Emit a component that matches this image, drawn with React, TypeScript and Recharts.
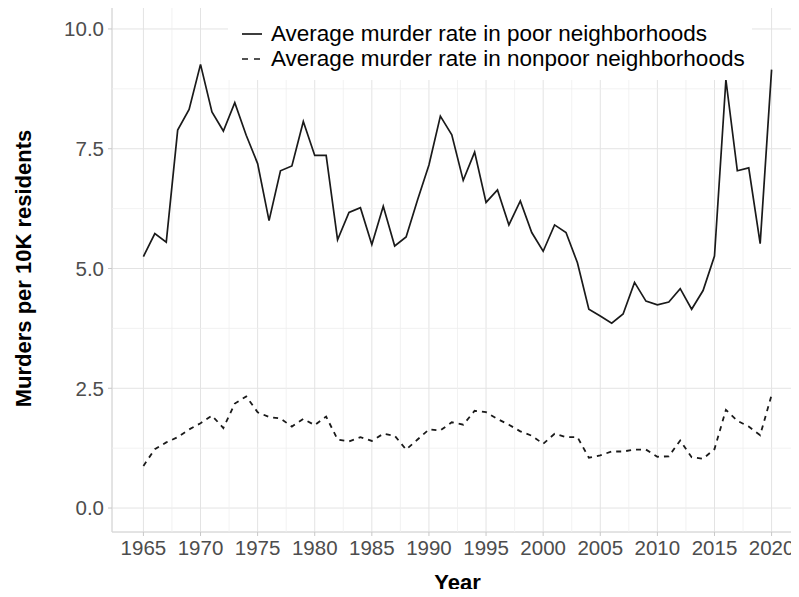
import React from 'react';
import { LineChart, Line, XAxis, YAxis, CartesianGrid, ReferenceLine, ReferenceArea, Legend } from 'recharts';

const years = [1965,1966,1967,1968,1969,1970,1971,1972,1973,1974,1975,1976,1977,1978,1979,1980,1981,1982,1983,1984,1985,1986,1987,1988,1989,1990,1991,1992,1993,1994,1995,1996,1997,1998,1999,2000,2001,2002,2003,2004,2005,2006,2007,2008,2009,2010,2011,2012,2013,2014,2015,2016,2017,2018,2019,2020];

const poor = [5.25,5.73,5.55,7.89,8.32,9.26,8.27,7.87,8.46,7.78,7.19,6.0,7.04,7.14,8.07,7.36,7.36,5.6,6.17,6.27,5.5,6.3,5.47,5.66,6.43,7.16,8.18,7.79,6.84,7.43,6.38,6.64,5.91,6.41,5.75,5.36,5.91,5.75,5.12,4.15,4.01,3.86,4.05,4.71,4.32,4.24,4.3,4.58,4.15,4.54,5.26,8.94,7.04,7.1,5.52,9.15];

const nonpoor = [0.88,1.23,1.37,1.48,1.64,1.77,1.93,1.67,2.18,2.33,2.0,1.9,1.87,1.7,1.86,1.73,1.91,1.43,1.39,1.48,1.4,1.55,1.51,1.22,1.43,1.64,1.62,1.79,1.74,2.03,2.0,1.86,1.74,1.6,1.51,1.34,1.55,1.48,1.48,1.05,1.1,1.18,1.18,1.22,1.22,1.07,1.08,1.41,1.06,1.03,1.23,2.05,1.82,1.7,1.52,2.36];

const seriesNames = ['Average murder rate in poor neighborhoods', 'Average murder rate in nonpoor neighborhoods'];
const xTicks = [1965,1970,1975,1980,1985,1990,1995,2000,2005,2010,2015,2020];
const xMinor = [1967.5,1972.5,1977.5,1982.5,1987.5,1992.5,1997.5,2002.5,2007.5,2012.5,2017.5];
const yTicks = [0,2.5,5,7.5,10];
const yMinor = [1.25,3.75,6.25,8.75];
const xDomain = [1962.25, 2022.75];
const yDomain = [-0.5, 10.5];

const data = years.map((y, i) => ({ year: y, poor: poor[i], nonpoor: nonpoor[i] }));

const FONT = '"Liberation Sans", Arial, Helvetica, sans-serif';

const LegendBox = () => (
  <div style={{ background: '#fff', width: '100%', height: '100%', fontFamily: FONT, fontSize: 22.5, color: '#000', boxSizing: 'border-box', paddingTop: 15 }}>
    {seriesNames.map((name, i) => (
      <div key={name} style={{ display: 'flex', alignItems: 'center', height: 25, whiteSpace: 'nowrap' }}>
        <svg width={43} height={20} style={{ flex: 'none' }}>
          <line x1={14} x2={34} y1={10} y2={10} stroke="#1a1a1a" strokeWidth={1.7} strokeDasharray={i === 1 ? '6 6' : undefined} />
        </svg>
        <span>{name}</span>
      </div>
    ))}
  </div>
);

export default function App() {
  return (
    <div style={{ width: 799, height: 597, overflow: 'hidden', margin: -8, background: '#fff' }}>
      <LineChart width={811} height={597} data={data} margin={{ top: 5, right: 8, bottom: 0, left: 0 }}>
        <CartesianGrid stroke="#e3e3e3" strokeWidth={1} />
        {xMinor.map(v => (
          <ReferenceLine key={'x' + v} x={v} stroke="#efefef" strokeWidth={0.8} />
        ))}
        {yMinor.map(v => (
          <ReferenceLine key={'y' + v} y={v} stroke="#efefef" strokeWidth={0.8} />
        ))}
        <ReferenceArea x1={xDomain[0]} x2={xDomain[1]} y1={yDomain[0]} y2={yDomain[1]} fill="none" stroke="#d6d6d6" strokeWidth={1} />
        <XAxis
          dataKey="year"
          type="number"
          domain={xDomain}
          ticks={xTicks}
          allowDataOverflow
          height={65}
          axisLine={false}
          tickLine={{ stroke: '#c8c8c8' }}
          tickSize={4}
          tickMargin={4}
          tick={{ fill: '#4d4d4d', fontSize: 20.5, fontFamily: FONT }}
          label={({ viewBox }: any) => (
            <text x={viewBox.x + viewBox.width / 2} y={590} textAnchor="middle" fontFamily={FONT} fontSize={22} fontWeight="bold" fill="#000">Year</text>
          )}
        />
        <YAxis
          type="number"
          domain={yDomain}
          ticks={yTicks}
          allowDataOverflow
          width={112}
          axisLine={false}
          tickLine={{ stroke: '#c8c8c8' }}
          tickSize={4}
          tickMargin={4}
          tickFormatter={(v: number) => v.toFixed(1)}
          tick={{ fill: '#4d4d4d', fontSize: 20.5, fontFamily: FONT }}
          label={({ viewBox }: any) => (
            <text x={31} y={viewBox.y + viewBox.height / 2} transform={`rotate(-90, 31, ${viewBox.y + viewBox.height / 2})`} textAnchor="middle" fontFamily={FONT} fontSize={22} fontWeight="bold" fill="#000">Murders per 10K residents</text>
          )}
        />
        <Line type="linear" dataKey="poor" name={seriesNames[0]} stroke="#1a1a1a" strokeWidth={1.7} dot={false} isAnimationActive={false} />
        <Line type="linear" dataKey="nonpoor" name={seriesNames[1]} stroke="#1a1a1a" strokeWidth={1.8} strokeDasharray="5 5" dot={false} isAnimationActive={false} />
        <Legend
          layout="horizontal"
          verticalAlign="middle"
          align="center"
          content={() => <LegendBox />}
          wrapperStyle={{ left: 228, top: 6, width: 524, height: 74, margin: 0, padding: 0 }}
        />
      </LineChart>
    </div>
  );
}
